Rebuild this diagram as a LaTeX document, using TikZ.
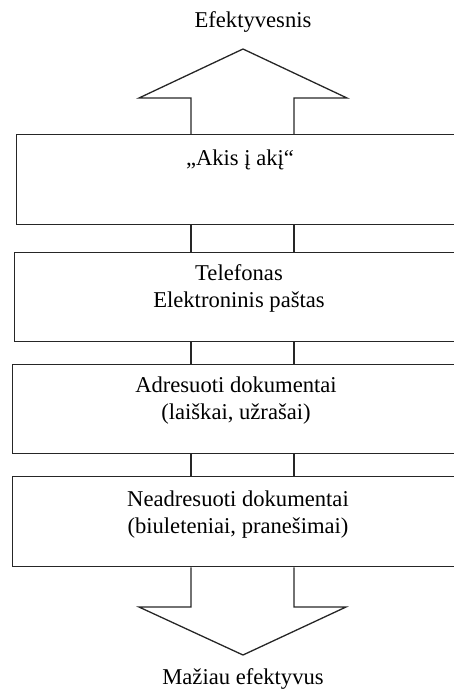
\documentclass[tikz,border=0pt]{standalone}
\usepackage{fontspec}
\setmainfont{Liberation Serif}
\begin{document}
\begin{tikzpicture}[x=1pt,y=-1pt,
  line/.style={draw=black!85,line width=1.3pt},
  level/.style={line,rectangle,inner sep=0pt,anchor=north west},
  lbl/.style={font=\fontsize{22.6}{27}\selectfont,align=center,inner sep=0pt}]
\useasboundingbox (0,0) rectangle (454,689);
\clip (0,0) rectangle (454,689);

% levels of the channel scale
\node[level,minimum width=456pt,minimum height=90pt] (b1) at (16,134) {};
\node[level,minimum width=458pt,minimum height=89pt] (b2) at (14,252) {};
\node[level,minimum width=460pt,minimum height=89pt] (b3) at (12,364) {};
\node[level,minimum width=460pt,minimum height=90pt] (b4) at (12,476) {};

% shaft rails
\coordinate (sl) at (191,0);
\coordinate (sr) at (294,0);

% upward arrow head
\coordinate (tl) at (139,98);
\coordinate (tr) at (347,98);
\coordinate (tt) at (243,49);
\draw[line,line join=miter] (b1.north -| sl) -- (tl -| sl) -- (tl) -- (tt) -- (tr) -- (tr -| sr) -- (b1.north -| sr);

% rails between the levels
\foreach \a/\b in {b1/b2,b2/b3,b3/b4}{
  \draw[line] (\a.south -| sl) -- (\b.north -| sl);
  \draw[line] (\a.south -| sr) -- (\b.north -| sr);
}

% downward arrow head
\coordinate (dl) at (139,607);
\coordinate (dr) at (346,607);
\coordinate (dt) at (243,655);
\draw[line,line join=miter] (b4.south -| sl) -- (dl -| sl) -- (dl) -- (dt) -- (dr) -- (dr -| sr) -- (b4.south -| sr);

% texts
\node[lbl] (top) at (253,22) {Efektyvesnis};
\node[lbl] (t1) at (240,160) {„Akis į akį“};
\node[lbl] (t2) at (239,288) {Telefonas\\Elektroninis paštas};
\node[lbl] (t3) at (236,401) {Adresuoti dokumentai\\(laiškai, užrašai)};
\node[lbl] (t4) at (238,515) {Neadresuoti dokumentai\\(biuleteniai, pranešimai)};
\node[lbl] (bot) at (243,679) {Mažiau efektyvus};
\end{tikzpicture}
\end{document}
